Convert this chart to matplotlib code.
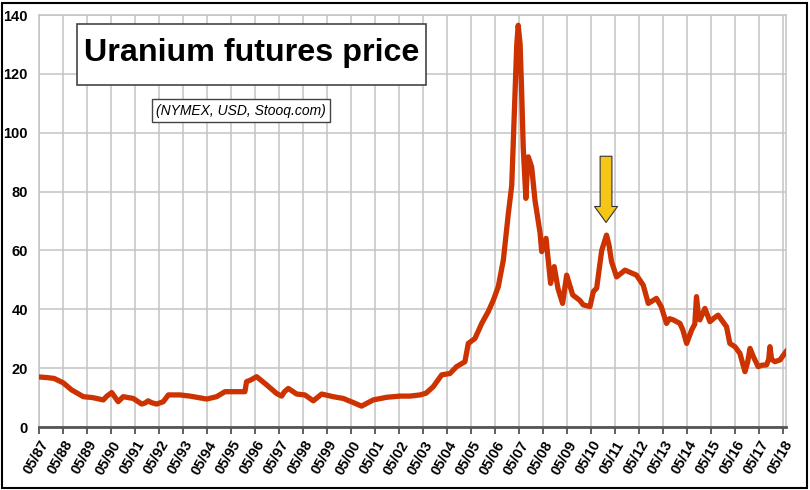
import matplotlib
matplotlib.use('Agg')
import matplotlib.pyplot as plt
from matplotlib.patches import Rectangle

plt.rcParams['font.family'] = ['Liberation Sans', 'DejaVu Sans']

# Data (decimal years, USD per lb)
years = [1987.37, 1987.7, 1988.0, 1988.38, 1988.73, 1989.22, 1989.6, 1990.05, 1990.2, 1990.4,
         1990.55, 1990.67, 1990.88, 1991.3, 1991.65, 1991.8, 1991.92, 1992.05, 1992.27, 1992.55,
         1992.76, 1993.24, 1993.66, 1994.0, 1994.36, 1994.77, 1995.12, 1995.5, 1995.95, 1996.02,
         1996.2, 1996.44, 1996.86, 1997.27, 1997.48, 1997.6, 1997.76, 1998.11, 1998.45, 1998.8,
         1999.15, 1999.63, 2000.05, 2000.47, 2000.81, 2001.3, 2001.86, 2002.41, 2002.83, 2003.25,
         2003.5, 2003.8, 2004.15, 2004.5, 2004.77, 2005.12, 2005.26, 2005.54, 2005.82, 2006.09,
         2006.3, 2006.51, 2006.72, 2006.93, 2007.07, 2007.2, 2007.28, 2007.34, 2007.42, 2007.48,
         2007.55, 2007.66, 2007.72, 2007.76, 2007.9, 2008.04, 2008.25, 2008.32, 2008.5, 2008.69,
         2008.84, 2009.0, 2009.19, 2009.36, 2009.61, 2009.91, 2010.05, 2010.33, 2010.47, 2010.61,
         2010.82, 2011.02, 2011.12, 2011.23, 2011.44, 2011.79, 2012.27, 2012.55, 2012.76, 2013.1,
         2013.3, 2013.52, 2013.65, 2013.8, 2014.08, 2014.2, 2014.36, 2014.57, 2014.7, 2014.77,
         2014.85, 2014.91, 2015.12, 2015.33, 2015.5, 2015.67, 2015.85, 2016.02, 2016.16, 2016.37,
         2016.58, 2016.79, 2016.9, 2017.0, 2017.14, 2017.34, 2017.5, 2017.69, 2017.78, 2017.83,
         2017.9, 2018.04, 2018.25, 2018.4, 2018.5]
prices = [17.0, 16.8, 16.5, 15.0, 12.6, 10.3, 10.0, 9.2, 10.5, 11.7,
          10.0, 8.6, 10.3, 9.7, 7.8, 8.2, 8.9, 8.3, 7.8, 8.6,
          10.9, 10.9, 10.5, 10.0, 9.5, 10.3, 12.0, 12.0, 12.0, 15.4,
          16.0, 17.1, 14.3, 11.4, 10.5, 12.0, 13.1, 11.2, 10.9, 8.9,
          11.2, 10.3, 9.7, 8.3, 7.1, 9.2, 10.1, 10.5, 10.5, 10.9,
          11.5, 13.7, 17.7, 18.2, 20.5, 22.2, 28.4, 30.1, 35.2, 39.2,
          43.0, 47.7, 56.7, 72.6, 82.0, 112.0, 130.0, 136.5, 130.0, 115.0,
          95.0, 77.7, 88.0, 91.8, 88.4, 77.0, 66.0, 59.6, 64.1, 48.8,
          54.5, 47.0, 42.0, 51.6, 44.9, 43.0, 41.5, 40.9, 46.0, 47.2,
          60.0, 65.2, 62.0, 56.2, 51.0, 53.3, 51.6, 48.2, 42.0, 43.7,
          40.9, 35.2, 36.8, 36.4, 35.2, 33.0, 28.4, 33.0, 35.0, 44.3,
          38.0, 36.4, 40.3, 35.8, 37.0, 38.0, 36.0, 34.1, 28.4, 27.3,
          25.0, 18.8, 22.0, 26.7, 23.9, 20.5, 21.0, 21.1, 23.0, 27.3,
          23.0, 22.2, 22.8, 24.5, 25.6]

tick_years = [1987.37 + k for k in range(32)]
tick_labels = ['05/%02d' % ((87 + k) % 100) for k in range(32)]

fig = plt.figure(figsize=(8.1, 4.9), dpi=100)
ax = fig.add_axes([39 / 810, 63 / 490, 747 / 810, 412 / 490])

ax.plot(years, prices, color='#CC3300', lw=3.8, solid_joinstyle='round', zorder=3)

ax.set_xlim(1987.37, 2018.5)
ax.set_ylim(0, 140)
ax.set_xticks(tick_years)
ax.set_xticklabels(tick_labels, rotation=60, ha='right', rotation_mode='anchor',
                   fontsize=10.5, fontweight='bold')
ax.set_yticks(range(0, 141, 20))
ax.tick_params(axis='y', length=0, pad=8, labelsize=10.5)
ax.tick_params(axis='x', length=5, width=1.2, color='#444444', pad=3)
for lab in ax.get_yticklabels():
    lab.set_fontweight('bold')

ax.grid(True, color='#c4c4c4', lw=1.1)
for side in ['left', 'right', 'top']:
    ax.spines[side].set_color('#c4c4c4')
    ax.spines[side].set_linewidth(1.1)
ax.spines['bottom'].set_color('#555555')
ax.spines['bottom'].set_linewidth(2)

# title and subtitle boxes
fig.patches.append(Rectangle((77 / 810, 1 - 85 / 490), 349 / 810, 61 / 490, transform=fig.transFigure,
                             fc='white', ec='#444444', lw=1.2, zorder=5))
fig.text(251.5 / 810, 1 - 53 / 490, 'Uranium futures price', fontsize=23.2, fontweight='bold',
         ha='center', va='center', zorder=6)
fig.text(241 / 810, 1 - 110.5 / 490, '(NYMEX, USD, Stooq.com)', fontsize=10, style='italic',
         ha='center', va='center',
         bbox=dict(boxstyle='square,pad=0.3', fc='white', ec='#444444', lw=1))

# yellow arrow pointing at the 2011 peak
ax.annotate('', xy=(2011.0, 69.5), xytext=(2011.0, 92),
            arrowprops=dict(width=8.5, headwidth=16.5, headlength=11.5, shrink=0,
                            fc='#F5C518', ec='#333333', lw=0.8), zorder=4)

# outer frame
fig.patches.append(Rectangle((2 / 810, 2 / 490), 805 / 810, 485 / 490, transform=fig.transFigure,
                             fill=False, ec='black', lw=1.5))

fig.savefig('out.png', dpi=100)
